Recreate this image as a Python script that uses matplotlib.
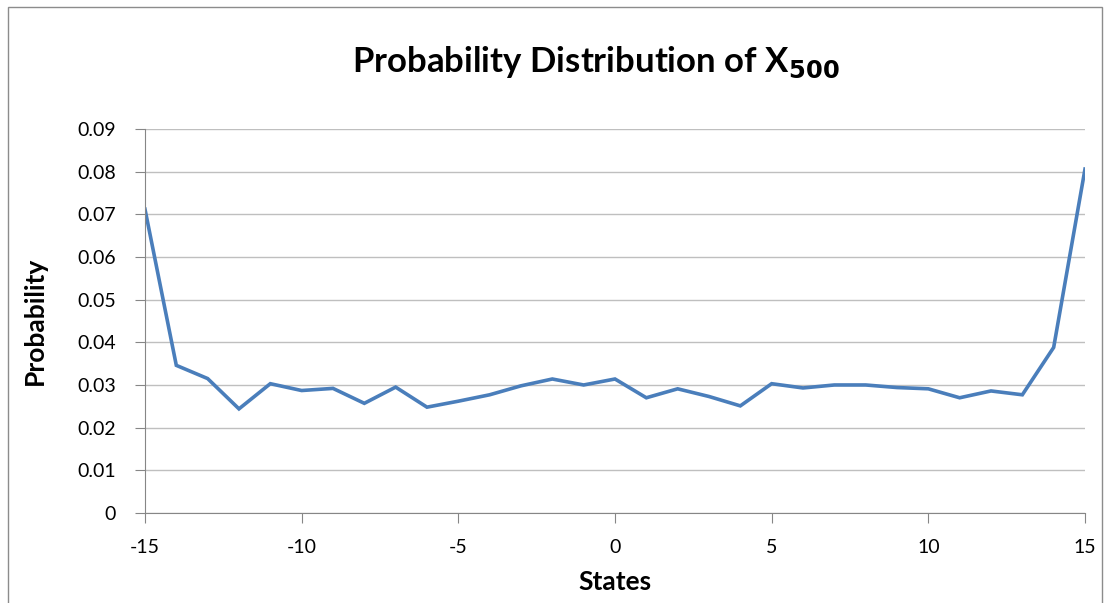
import numpy as np
import matplotlib.pyplot as plt
from matplotlib.patches import Rectangle

plt.rcParams['font.family'] = ['Lato', 'DejaVu Sans']
plt.rcParams['axes.unicode_minus'] = False

# probability of each state after 500 steps
states = np.arange(-15, 16)
probs = [0.0712, 0.0346, 0.0315, 0.0244, 0.0303, 0.0287, 0.0292, 0.0257,
         0.0295, 0.0248, 0.0262, 0.0277, 0.0298, 0.0314, 0.0300, 0.0314,
         0.0270, 0.0291, 0.0273, 0.0251, 0.0303, 0.0293, 0.0300, 0.0300,
         0.0294, 0.0291, 0.0270, 0.0286, 0.0277, 0.0388, 0.0806]

xticks = [-15, -10, -5, 0, 5, 10, 15]
yticks = np.arange(0, 0.091, 0.01)

fig = plt.figure(figsize=(11.05, 6.03), dpi=100)
ax = fig.add_axes([0.1312, 0.1493, 0.8507, 0.6368])

# outer chart frame
fig.patches.append(Rectangle((0.007, -0.01), 0.99, 0.998, transform=fig.transFigure,
                             fill=False, edgecolor='#8c8c8c', lw=1.0))

ax.plot(states, probs, color='#4a7ebb', lw=2.6, solid_joinstyle='miter')

ax.set_xlim(-15, 15)
ax.set_ylim(0, 0.09)
ax.set_xticks(xticks)
ax.set_yticks(yticks)
ax.set_yticklabels(['0'] + [f'{v:.2f}' for v in yticks[1:]])
ax.yaxis.grid(True, color='#bfbfbf', lw=1.0)
ax.set_axisbelow(True)

for s in ['top', 'right']:
    ax.spines[s].set_visible(False)
for s in ['left', 'bottom']:
    ax.spines[s].set_color('#868686')
ax.tick_params(axis='both', direction='out', length=7, color='#868686',
               labelsize=14)
ax.tick_params(axis='y', pad=14)
ax.tick_params(axis='x', pad=12)

ax.set_xlabel('States', fontsize=19, fontweight='bold', labelpad=10)
ax.set_ylabel('Probability', fontsize=19, fontweight='bold', labelpad=22)
fig.text(0.539, 0.897, r'Probability Distribution of X$_{\mathbf{500}}$',
         ha='center', va='center', fontsize=25, fontweight='bold')

fig.savefig('out.png', dpi=100)
